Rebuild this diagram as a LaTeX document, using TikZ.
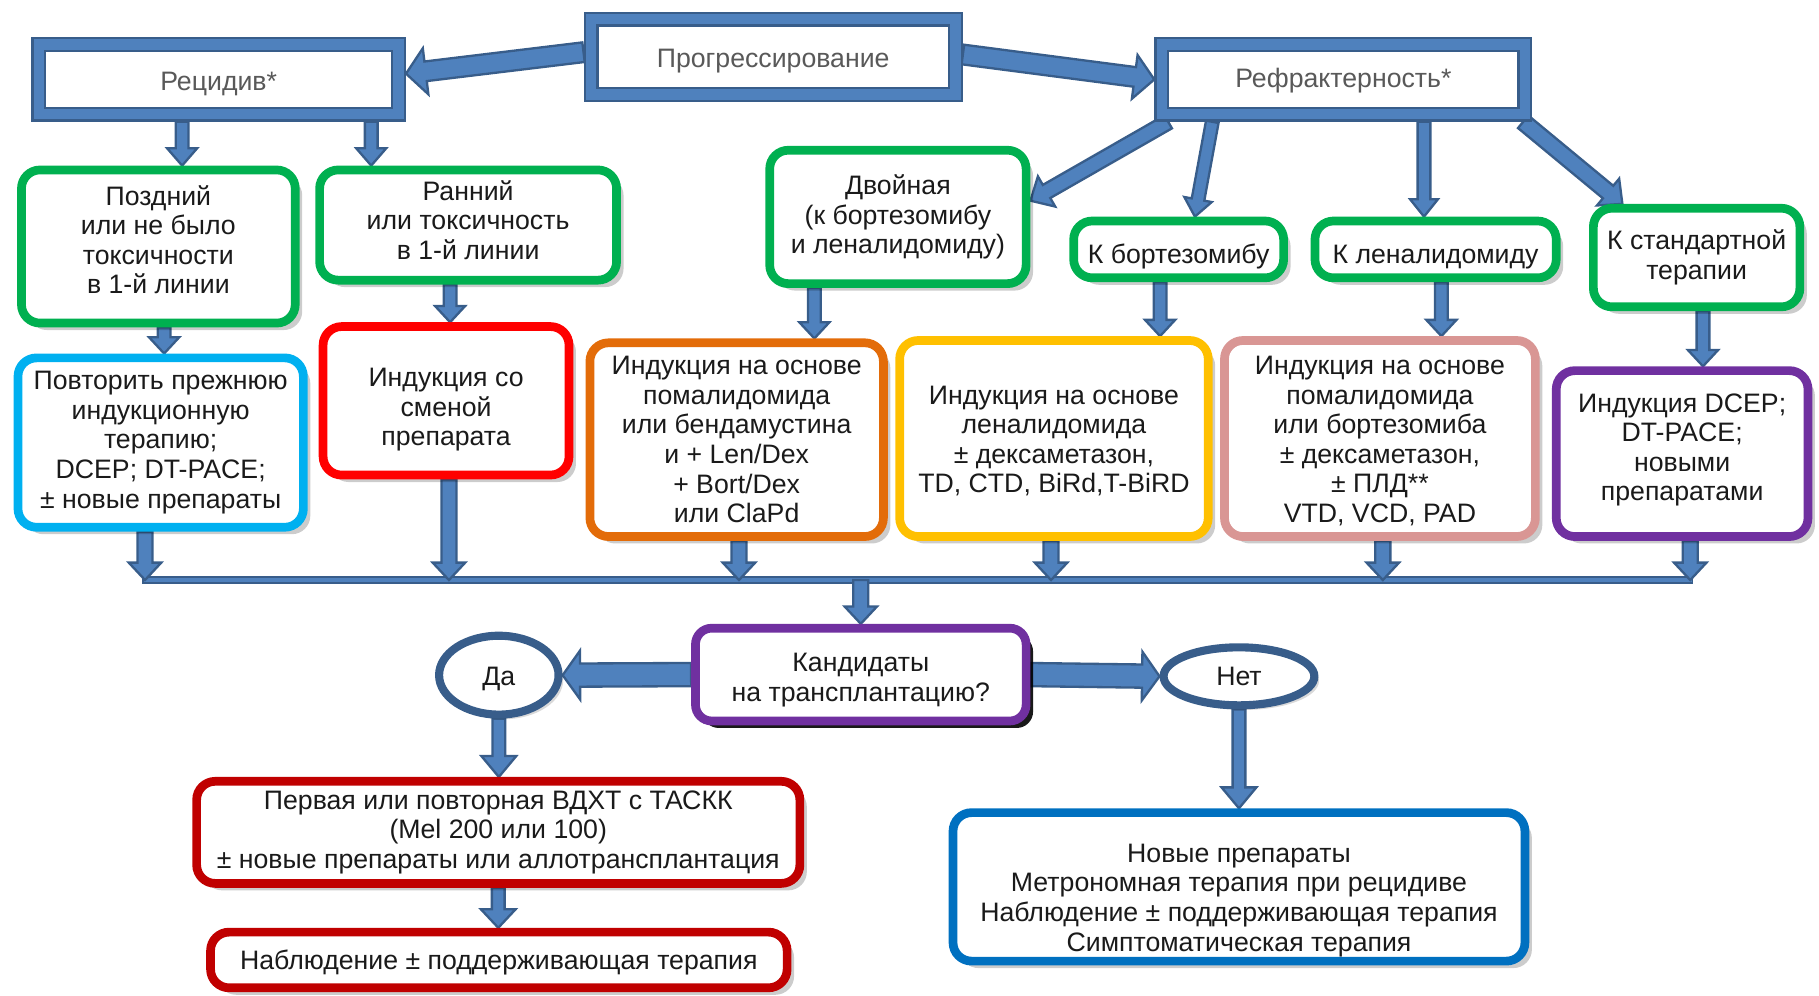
\documentclass[tikz,border=0pt]{standalone}
\usepackage{fontspec}
\setmainfont{Liberation Sans}
\usetikzlibrary{calc,shadows,shapes.geometric,backgrounds}
\definecolor{ablue}{HTML}{4F81BD}
\definecolor{adark}{HTML}{385D8A}
\definecolor{cgreen}{HTML}{00B050}
\definecolor{ccyan}{HTML}{00B0F0}
\definecolor{cred}{HTML}{FF0000}
\definecolor{corange}{HTML}{E36C09}
\definecolor{cyellow}{HTML}{FFC000}
\definecolor{cpink}{HTML}{D99694}
\definecolor{cpurple}{HTML}{7030A0}
\definecolor{cdred}{HTML}{C00000}
\definecolor{cblue}{HTML}{0070C0}
\definecolor{tgray}{HTML}{595959}
\definecolor{ttext}{HTML}{1A1A1A}
\newcommand\barrow[5]{%
  \path #4 coordinate (bA) #5 coordinate (bB);
  \coordinate (bC) at ($(bB)!#3pt!(bA)$);
  \filldraw[barrowstyle] ($(bA)!#1pt!90:(bB)$) -- ($(bC)!#1pt!90:(bB)$) -- ($(bC)!#2pt!90:(bB)$) -- (bB) -- ($(bC)!#2pt!-90:(bB)$) -- ($(bC)!#1pt!-90:(bB)$) -- ($(bA)!#1pt!-90:(bB)$) -- cycle;}
% struts that move a node's text down (\tdn on first line) or up (\tup on last line)
\newcommand\tdn[1]{\rule{0pt}{#1}}
\newcommand\tup[1]{\rule[-#1]{0pt}{#1}}
\tikzset{
  every node/.style={font=\fontsize{23}{25.5}\selectfont},
  barrowstyle/.style={fill=ablue, draw=adark, line width=2, line join=miter},
  topbox/.style={draw=adark, line width=2, double=ablue, double distance=9, fill=white, text=tgray, outer sep=6.5, inner sep=0},
  cbox/.style={draw=#1, line width=7.5, rounded corners=16, fill=white, align=center, text=ttext, inner sep=0,
    drop shadow={shadow xshift=6pt, shadow yshift=-6pt, fill=black, opacity=0.2}},
  kbox/.style={draw=cpurple, line width=7.5, rounded corners=14, fill=white, align=center, text=ttext, inner sep=0,
    drop shadow={shadow xshift=6pt, shadow yshift=-6pt, fill=black, opacity=0.9}},
  ebox/.style={ellipse, draw=adark, line width=7, fill=white, text=ttext, inner sep=0,
    drop shadow={shadow xshift=4pt, shadow yshift=-4pt, fill=black, opacity=0.15}},
}
\begin{document}
\begin{tikzpicture}[x=1pt,y=-1pt]
\useasboundingbox (0,0) rectangle (1568,858);
% top boxes
\node[topbox, minimum width=310, minimum height=60] (rec) at (188.5,68.5) {\tdn{23pt}Рецидив*};
\node[topbox, minimum width=314, minimum height=65] (prog) at (666.5,49) {\tdn{23pt}Прогрессирование};
\node[topbox, minimum width=313, minimum height=60] (ref) at (1158,68.5) {\tdn{19pt}Рефрактерность*};
% level 2
\node[cbox=cgreen, minimum width=236, minimum height=132] (pozd) at (136.5,212.5) {Поздний\\или не было\\токсичности\\в 1-й линии\tup{12pt}};
\node[cbox=cgreen, minimum width=256, minimum height=95] (ran) at (403.5,194) {Ранний\\или токсичность\\в 1-й линии\tup{9pt}};
\node[cbox=cgreen, minimum width=221, minimum height=115] (dvoy) at (774,187) {Двойная\\(к бортезомибу\\и леналидомиду)};
\node[cbox=cgreen, minimum width=181, minimum height=49] (bort) at (1016,215) {\tdn{29pt}К бортезомибу};
\node[cbox=cgreen, minimum width=208, minimum height=49] (lena) at (1237.5,215) {\tdn{29pt}К леналидомиду};
\node[cbox=cgreen, minimum width=178, minimum height=85] (stand) at (1462.5,222) {К стандартной\\терапии};
% level 3
\node[cbox=ccyan, minimum width=246, minimum height=146] (povt) at (138.5,381.5) {Повторить прежнюю\\индукционную\\терапию;\\DCEP; DT-PACE;\\± новые препараты};
\node[cbox=cred, minimum width=212, minimum height=128] (smena) at (384.5,345.5) {\tdn{31pt}Индукция со\\сменой\\препарата};
\node[cbox=corange, minimum width=253, minimum height=167] (orange) at (635,379) {Индукция на основе\\помалидомида\\или бендамустина\\и + Len/Dex\\+ Bort/Dex\\или ClaPd};
\node[cbox=cyellow, minimum width=266, minimum height=169] (yellow) at (908.5,378) {\tdn{20pt}Индукция на основе\\леналидомида\\± дексаметазон,\\TD, CTD, BiRd,T-BiRD};
\node[cbox=cpink, minimum width=268, minimum height=169] (pink) at (1189.5,378) {\tdn{20pt}Индукция на основе\\помалидомида\\или бортезомиба\\± дексаметазон,\\± ПЛД**\\VTD, VCD, PAD};
\node[cbox=cpurple, minimum width=217, minimum height=143] (purp) at (1450,391) {Индукция DCEP;\\DT-PACE;\\новыми\\препаратами\tup{11pt}};
% bottom part
\node[kbox, minimum width=285, minimum height=80] (kand) at (742,581.5) {\tdn{25pt}Кандидаты\\на трансплантацию?};
\node[ebox, minimum width=103, minimum height=68] (da) at (430,582) {\tdn{22pt}Да};
\node[ebox, minimum width=130, minimum height=50] (net) at (1068,583) {Нет};
\node[cbox=cdred, minimum width=520, minimum height=88] (perv) at (429.5,717.5) {Первая или повторная ВДХТ с ТАСКК\\(Mel 200 или 100)\\± новые препараты или аллотрансплантация};
\node[cbox=cdred, minimum width=497, minimum height=48] (nabl) at (430,827.5) {\tdn{22pt}Наблюдение ± поддерживающая терапия};
\node[cbox=cblue, minimum width=493, minimum height=128] (nov) at (1068,764.5) {\tdn{39pt}Новые препараты\\Метрономная терапия при рецидиве\\Наблюдение ± поддерживающая терапия\\Симптоматическая терапия};
% connectors
\begin{scope}[on background layer]
\barrow{8.5}{20}{17}{([yshift=4]prog.west)}{([yshift=5]rec.east)}
\barrow{8.5}{19}{17}{([yshift=2]prog.east)}{(ref.west)}
\coordinate (c1) at ([xshift=20.5]pozd.north);
\barrow{5.5}{13}{15}{(c1 |- rec.south)}{(c1)}
\coordinate (c2) at ([xshift=-83.5]ran.north);
\barrow{5.5}{13}{15}{(c2 |- rec.south)}{(c2)}
\barrow{6.5}{15}{16}{([xshift=12]ref.south west)}{([yshift=14]dvoy.east)}
\barrow{5.5}{12}{15}{([xshift=50]ref.south west)}{([xshift=14]bort.north)}
\coordinate (c3) at ([xshift=-10]lena.north);
\barrow{5.5}{12}{15}{(c3 |- ref.south)}{(c3)}
\barrow{7}{15}{16}{([xshift=-8]ref.south east)}{([xshift=-64]stand.north)}
\coordinate (c4) at ([xshift=5]pozd.south);
\barrow{5.5}{13}{14}{(c4)}{(c4 |- povt.north)}
\coordinate (c5) at ([xshift=3.5]smena.north);
\barrow{5.5}{13}{14}{(c5 |- ran.south)}{(c5)}
\coordinate (c6) at ([xshift=-72]dvoy.south);
\barrow{5.5}{13}{14}{(c6)}{(c6 |- orange.north)}
\coordinate (c7) at ([xshift=-16]bort.south);
\barrow{5.5}{13}{14}{(c7)}{(c7 |- yellow.north)}
\coordinate (c8) at ([xshift=5]lena.south);
\barrow{5.5}{13}{14}{(c8)}{(c8 |- pink.north)}
\coordinate (c9) at ([xshift=5.5]stand.south);
\barrow{5.5}{13}{14}{(c9)}{(c9 |- purp.north)}
% bus
\coordinate (bus) at (0,500);
\coordinate (d1) at ([xshift=-13.5]povt.south);
\coordinate (d2) at ([xshift=2.5]smena.south);
\coordinate (d3) at ([xshift=2]orange.south);
\coordinate (d4) at ([xshift=-2.5]yellow.south);
\coordinate (d5) at ([xshift=2.5]pink.south);
\coordinate (d6) at ([xshift=7]purp.south);
\filldraw[barrowstyle, line width=1.5] ($(d1 |- bus)+(-2,-2.5)$) rectangle ($(d6 |- bus)+(2,2.5)$);
\barrow{6.5}{14}{15}{(d1)}{(d1 |- bus)}
\barrow{6.5}{14}{15}{(d2)}{(d2 |- bus)}
\barrow{6.5}{14}{15}{(d3)}{(d3 |- bus)}
\barrow{6.5}{14}{15}{(d4)}{(d4 |- bus)}
\barrow{6.5}{14}{15}{(d5)}{(d5 |- bus)}
\barrow{6.5}{14}{15}{(d6)}{(d6 |- bus)}
\barrow{6.5}{14}{15}{(kand.north |- bus)}{(kand.north)}
\barrow{10}{21}{15}{(kand.west)}{(da.east)}
\barrow{10}{21}{15}{(kand.east)}{(net.west)}
\barrow{5.5}{15}{18}{(da.south)}{(da.south |- perv.north)}
\barrow{5.5}{15}{16}{(perv.south)}{(perv.south |- nabl.north)}
\barrow{5.5}{15}{18}{(net.south)}{(net.south |- nov.north)}
\end{scope}
\end{tikzpicture}
\end{document}
